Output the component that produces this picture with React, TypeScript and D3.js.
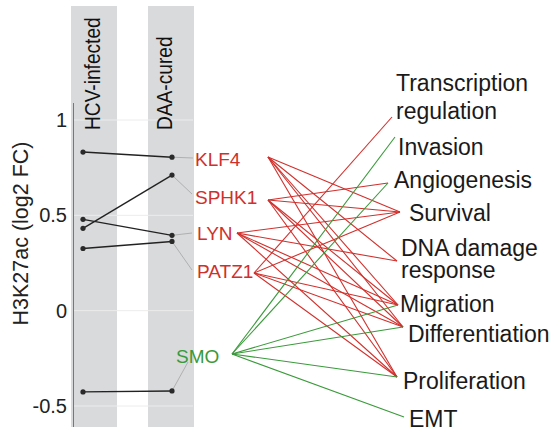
import React from "react";
import * as d3 from "d3";

// ---------- data ----------
const genes = ["KLF4", "SPHK1", "LYN", "PATZ1", "SMO"];
const hcvValues = [0.832, 0.432, 0.479, 0.326, -0.426];
const daaValues = [0.805, 0.711, 0.395, 0.363, -0.421];
const geneDirection = ["up", "up", "up", "up", "down"];
const conditions = ["HCV-infected", "DAA-cured"];
const yTicks = [1, 0.5, 0, -0.5];
const yTickLabels = ["1", "0.5", "0", "-0.5"];
const yTitle = "H3K27ac (log2 FC)";
const functionsList = [
  "Transcription regulation",
  "Invasion",
  "Angiogenesis",
  "Survival",
  "DNA damage response",
  "Migration",
  "Differentiation",
  "Proliferation",
  "EMT",
];
const functionLines = [
  ["Transcription", "regulation"],
  ["Invasion"],
  ["Angiogenesis"],
  ["Survival"],
  ["DNA damage", "response"],
  ["Migration"],
  ["Differentiation"],
  ["Proliferation"],
  ["EMT"],
];
const klf4Links = ["Survival", "DNA damage response", "Migration", "Differentiation", "Proliferation"];
const sphk1Links = ["Angiogenesis", "Survival", "Migration", "Differentiation", "Proliferation"];
const lynLinks = ["Survival", "DNA damage response", "Migration", "Differentiation", "Proliferation"];
const patz1Links = ["Transcription regulation", "Survival", "Migration", "Differentiation", "Proliferation"];
const smoLinks = ["Invasion", "Angiogenesis", "Migration", "Differentiation", "Proliferation", "EMT"];
const geneLinks = [klf4Links, sphk1Links, lynLinks, patz1Links, smoLinks];

// ---------- layout ----------
const W = 559;
const H = 427;
const FONT = "'Liberation Sans', Arial, Helvetica, sans-serif";
const RED = "#d0302c";
const GREEN = "#3a9a3a";
const colorOf = (d: string) => (d === "up" ? RED : GREEN);

const headerBaselineX = [100, 172];
const geneLabelX = [195, 195, 197, 197, 176];
const geneLabelBaseline = [166, 204, 240, 278, 363];
const connectorEnd = [
  [193, 158],
  [192, 194],
  [192, 233],
  [192, 270],
  [188, 362],
];
const geneAnchor = [
  [268, 157],
  [268, 200],
  [237, 233],
  [254, 273],
  [232, 354],
];
const funcLabelX = [396, 398, 394, 409, 401, 400, 408, 403, 409];
const funcBaseline = [91, 155, 188, 221, 256, 312, 342, 389, 427];
const funcLineGap = [28, 0, 0, 0, 22, 0, 0, 0, 0];
const funcAnchor = [
  [392, 117],
  [395, 137],
  [388, 183],
  [400, 212],
  [397, 261],
  [398, 305],
  [403, 327],
  [397, 377],
  [404, 417],
];

export default function App() {
  const y = d3.scaleLinear().domain([-0.5, 1]).range([406, 120]);
  const x = d3.scalePoint<string>().domain(conditions).range([83, 172]);
  const bandX = d3.scaleBand<string>().domain(conditions).range([71, 194]).paddingInner(0.4026).paddingOuter(0);
  const lineGen = d3.line<[number, number]>().x((d) => d[0]).y((d) => d[1]);

  const gridX0 = 73;
  const gridX1 = 193;

  return (
    <div style={{ position: "absolute", left: 0, top: 0 }}>
      <svg width={W} height={H} style={{ display: "block", fontFamily: FONT }}>
        <rect width={W} height={H} fill="#fff" />
        {/* column bands */}
        {conditions.map((c) => (
          <rect key={c} x={bandX(c)} y={6} width={bandX.bandwidth()} height={H - 6} fill="#d9dadc" />
        ))}
        {/* grid */}
        {yTicks.map((t) => (
          <line key={t} x1={gridX0} x2={gridX1} y1={y(t)} y2={y(t)} stroke="#ececec" strokeWidth={1} />
        ))}
        {/* axis */}
        <line x1={73.5} x2={73.5} y1={103} y2={H} stroke="#777" strokeWidth={1} />
        {yTicks.map((t, i) => (
          <text key={t} x={67} y={y(t) + 7} textAnchor="end" fontSize={20} fill="#222">
            {yTickLabels[i]}
          </text>
        ))}
        <text transform={`translate(28,233.5) rotate(-90)`} textAnchor="middle" fontSize={21.5} fill="#222">
          {yTitle}
        </text>
        {/* column headers */}
        {conditions.map((c, i) => (
          <text
            key={c}
            transform={`translate(${headerBaselineX[i]},130) rotate(-90) scale(0.87,1)`}
            fontSize={22}
            fill="#111"
          >
            {c}
          </text>
        ))}
        {/* label connectors */}
        {genes.map((g, i) => (
          <path
            key={g}
            d={lineGen([
              [x(conditions[1]) as number, y(daaValues[i])],
              [connectorEnd[i][0], connectorEnd[i][1]],
            ]) as string}
            stroke="#b0b0b0"
            strokeWidth={1}
            fill="none"
          />
        ))}
        {/* paired lines */}
        {genes.map((g, i) => (
          <path
            key={g}
            d={lineGen([
              [x(conditions[0]) as number, y(hcvValues[i])],
              [x(conditions[1]) as number, y(daaValues[i])],
            ]) as string}
            stroke="#222"
            strokeWidth={1.4}
            fill="none"
          />
        ))}
        {genes.map((g, i) => (
          <g key={g}>
            <circle cx={x(conditions[0])} cy={y(hcvValues[i])} r={2.6} fill="#2a2a2a" />
            <circle cx={x(conditions[1])} cy={y(daaValues[i])} r={2.6} fill="#2a2a2a" />
          </g>
        ))}
        {/* network links */}
        {genes.map((g, i) =>
          geneLinks[i].map((f) => {
            const j = functionsList.indexOf(f);
            return (
              <path
                key={g + f}
                d={lineGen([
                  [geneAnchor[i][0], geneAnchor[i][1]],
                  [funcAnchor[j][0], funcAnchor[j][1]],
                ]) as string}
                stroke={colorOf(geneDirection[i])}
                strokeWidth={1.1}
                fill="none"
              />
            );
          })
        )}
        {/* gene labels */}
        {genes.map((g, i) => (
          <text key={g} x={geneLabelX[i]} y={geneLabelBaseline[i]} fontSize={19} fill={colorOf(geneDirection[i])}>
            {g}
          </text>
        ))}
        {/* function labels */}
        {functionLines.map((lines, j) => (
          <text key={j} x={funcLabelX[j]} y={funcBaseline[j]} fontSize={23} fill="#1a1a1a">
            {lines.map((l, k) => (
              <tspan key={k} x={funcLabelX[j]} dy={k === 0 ? 0 : funcLineGap[j]}>
                {l}
              </tspan>
            ))}
          </text>
        ))}
      </svg>
    </div>
  );
}
